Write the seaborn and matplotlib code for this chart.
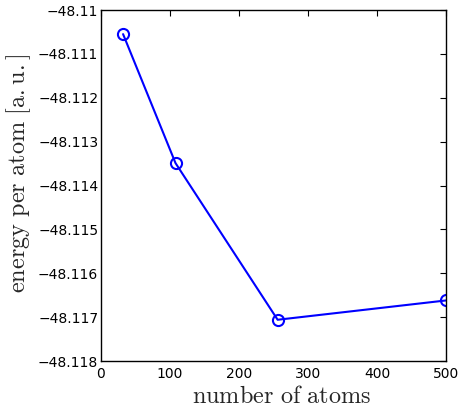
import matplotlib
matplotlib.use("Agg")
import matplotlib.pyplot as plt
import seaborn as sns
import pandas as pd
from matplotlib.ticker import FuncFormatter

atoms = [32, 108, 256, 500]
energy = [-48.11055, -48.11349, -48.11706, -48.11662]
x_ticks = [0, 100, 200, 300, 400, 500]
y_ticks = [-48.118, -48.117, -48.116, -48.115, -48.114, -48.113, -48.112, -48.111, -48.110]

sns.set_style("white")
plt.rcParams['font.family'] = ['DejaVu Sans']
plt.rcParams['mathtext.fontset'] = 'cm'

df = pd.DataFrame({"atoms": atoms, "energy": energy})

fig = plt.figure(figsize=(4.6, 4.07), dpi=100)
ax = fig.add_axes([101/460, 46/407, 345/460, 351/407])
sns.lineplot(data=df, x="atoms", y="energy", ax=ax, color=(0, 0, 1), linewidth=1.5,
             marker="o", markersize=8, markerfacecolor="none", markeredgecolor=(0, 0, 1),
             markeredgewidth=1.5)

ax.set_xlim(0, 500)
ax.set_ylim(-48.118, -48.110)
ax.set_xticks(x_ticks)
ax.set_yticks(y_ticks)

def fmt(v, pos):
    s = f"{v:.3f}".rstrip("0").rstrip(".")
    return s.replace("-", "\u2212")

ax.yaxis.set_major_formatter(FuncFormatter(fmt))
ax.xaxis.set_major_formatter(FuncFormatter(lambda v, p: f"{int(round(v))}"))
ax.tick_params(direction="in", length=4, width=0.8, top=True, right=True,
               labelsize=10, colors="black")
ax.tick_params(axis="y", pad=2)
ax.tick_params(axis="x", pad=4)
for s in ax.spines.values():
    s.set_visible(True)
    s.set_color("black")
    s.set_linewidth(1.0)

ax.set_xlabel(r"$\mathrm{number\ of\ atoms}$", fontsize=17.5, labelpad=2.5)
ax.set_ylabel(r"$\mathrm{energy\ per\ atom\ [a{.}u{.}]}$", fontsize=17.5, labelpad=3.5)
ax.xaxis.label.set_x(0.523)
ax.yaxis.label.set_y(0.533)

fig.savefig("out.png", dpi=100)
